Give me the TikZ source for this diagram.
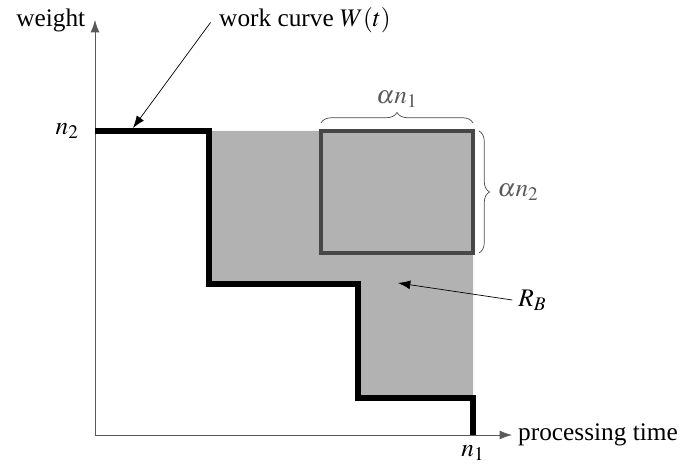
\documentclass[tikz,border=0pt]{standalone}
\usepackage{mathptmx}
\usepackage{fontspec}
\setmainfont{Liberation Serif}
\usetikzlibrary{decorations.pathreplacing,arrows.meta}

\begin{document}
\begin{tikzpicture}[font=\fontsize{14.4}{17}\selectfont,
  axis/.style={draw=black!65,thin,-{Latex[length=7pt,width=5pt]}},
  pointer/.style={draw=black,thin,-{Latex[length=7pt,width=5pt]}},
  bracelab/.style={text=black!65}]
\useasboundingbox (-1.9,-0.58) rectangle (11.84,8.7);
\coordinate (o) at (0,0);
\coordinate (xend) at (8.34,0);
\coordinate (yend) at (0,8.3);
% shaded region R_B
\fill[black!30] (2.28,6.08) -- (7.56,6.08) -- (7.56,0.74) -- (5.26,0.74) -- (5.26,3.02) -- (2.28,3.02) -- cycle;
% alpha square
\draw[black!72,line width=2pt] (4.52,6.08) rectangle (7.56,3.64);
\draw[black!70,decorate,decoration={brace,amplitude=6pt}] (4.52,6.24) -- (7.56,6.24)
  node[midway,above=5pt,bracelab] (an1) {$\alpha n_1$};
\draw[black!70,decorate,decoration={brace,amplitude=6pt}] (7.68,6.08) -- (7.68,3.64)
  node[midway,right=7pt,bracelab] (an2) {$\alpha n_2$};
% axes
\draw[axis] (o) -- (xend) node[anchor=west] (pt) {processing time};
\draw[axis] (o) -- (yend) node[anchor=east,xshift=-2pt] (wt) {weight};
% work curve
\draw[line width=3.2pt,line join=miter] (0,6.08) -- (2.28,6.08) -- (2.28,3.02) -- (5.26,3.02)
  -- (5.26,0.74) -- (7.56,0.74) -- (7.56,0);
\node[anchor=east] (n2) at (-0.2,6.08) {$n_2$};
\node[anchor=north] (n1) at (7.56,-0.08) {$n_1$};
% labels with pointers
\node (wc) at (4.2,8.3) {work curve $W(t)$};
\coordinate (wcpt) at (0.76,6.14);
\draw[pointer] (wc.west) ++(-0.05,-0.05) -- (wcpt);
\node (rb) at (8.75,2.7) {$R_B$};
\coordinate (rbpt) at (6.06,3.04);
\draw[pointer] (rb.west) -- (rbpt);
\end{tikzpicture}
\end{document}
